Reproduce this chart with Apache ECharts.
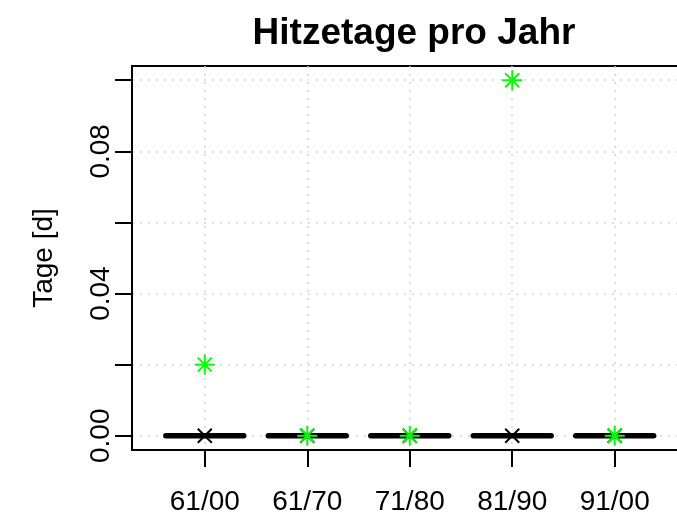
<!DOCTYPE html>
<html>
<head>
<meta charset="utf-8">
<script src="https://cdn.jsdelivr.net/npm/echarts@6/dist/echarts.min.js"></script>
<style>
  html, body { margin: 0; padding: 0; background: #fff; }
  #chart { width: 677px; height: 519px; }
</style>
</head>
<body>
<div id="chart"></div>
<script>
// chart values
const categories = ['61/00', '61/70', '71/80', '81/90', '91/00'];
const medianDays = [0, 0, 0, 0, 0];          // thick black segments
const observedDays = [0, 0, 0, 0, 0];        // black crosses
const modelDays = [0.02, 0, 0, 0.1, 0];      // green asterisks
const yTickValues = [0, 0.02, 0.04, 0.06, 0.08, 0.1];
const yLabelValues = [0, 0.04, 0.08];
const xTickValues = [1, 2, 3, 4, 5];

const FONT = 'Liberation Sans, Arial, Helvetica, sans-serif';

function toPoints(arr) {
    return arr.map(function (v, i) { return [i + 1, v]; });
}

function segmentItem(params, api) {
    let x = api.value(0), y = api.value(1);
    let p1 = api.coord([x - 0.38, y]);
    let p2 = api.coord([x + 0.38, y]);
    return {
        type: 'line',
        shape: { x1: p1[0], y1: p1[1], x2: p2[0], y2: p2[1] },
        style: { stroke: '#000', lineWidth: 5.5, lineCap: 'round' }
    };
}

function crossLines(c, h, color) {
    return [
        { type: 'line', shape: { x1: c[0] - h, y1: c[1] - h, x2: c[0] + h, y2: c[1] + h }, style: { stroke: color, lineWidth: 2 } },
        { type: 'line', shape: { x1: c[0] - h, y1: c[1] + h, x2: c[0] + h, y2: c[1] - h }, style: { stroke: color, lineWidth: 2 } }
    ];
}

function crossItem(params, api) {
    let c = api.coord([api.value(0), api.value(1)]);
    return { type: 'group', children: crossLines(c, 7, '#000') };
}

function starItem(params, api) {
    let c = api.coord([api.value(0), api.value(1)]);
    let kids = crossLines(c, 7, '#00ff00');
    kids.push({ type: 'line', shape: { x1: c[0] - 10, y1: c[1], x2: c[0] + 10, y2: c[1] }, style: { stroke: '#00ff00', lineWidth: 2 } });
    kids.push({ type: 'line', shape: { x1: c[0], y1: c[1] - 10, x2: c[0], y2: c[1] + 10 }, style: { stroke: '#00ff00', lineWidth: 2 } });
    return { type: 'group', children: kids };
}

let myChart = echarts.init(document.getElementById('chart'));
let gridLine = {
    show: true,
    lineStyle: { color: '#d3d3d3', width: 1.5, type: [2, 6] }
};
let options = {
    animation: false,
    backgroundColor: '#fff',
    title: {
        text: 'Hitzetage pro Jahr',
        left: 409,
        top: 10,
        textAlign: 'center',
        textStyle: {
            fontFamily: FONT,
            fontSize: 37,
            fontWeight: 'bold',
            color: '#000'
        }
    },
    grid: {
        left: 132,
        top: 66,
        height: 384,
        width: 555.5,
        outerBoundsMode: 'none',
        show: true,
        borderColor: '#000',
        borderWidth: 2,
        backgroundColor: 'transparent'
    },
    xAxis: {
        type: 'value',
        min: 0.29,
        max: 5.71,
        axisLine: { show: true, onZero: false, lineStyle: { color: '#000', width: 2 } },
        axisTick: {
            show: true,
            length: 17,
            customValues: xTickValues,
            lineStyle: { color: '#000', width: 2 }
        },
        axisLabel: {
            customValues: xTickValues,
            margin: 38,
            fontFamily: FONT,
            fontSize: 28,
            color: '#000',
            formatter: function (v) {
                return categories[Math.round(v) - 1] || '';
            }
        },
        splitLine: gridLine
    },
    yAxis: {
        type: 'value',
        min: -0.004,
        max: 0.104,
        name: 'Tage [d]',
        nameLocation: 'middle',
        nameGap: 74,
        nameTextStyle: { fontFamily: FONT, fontSize: 28, color: '#000' },
        axisLine: { show: true, onZero: false, lineStyle: { color: '#000', width: 2 } },
        axisTick: {
            show: true,
            length: 17,
            customValues: yTickValues,
            lineStyle: { color: '#000', width: 2 }
        },
        axisLabel: {
            customValues: yLabelValues,
            rotate: 90,
            margin: 17,
            fontFamily: FONT,
            fontSize: 28,
            color: '#000',
            formatter: function (v) {
                return v.toFixed(2);
            }
        },
        splitLine: gridLine
    },
    series: [
        {
            type: 'custom',
            name: 'median',
            renderItem: segmentItem,
            data: toPoints(medianDays),
            z: 3
        },
        {
            type: 'custom',
            name: 'beobachtet',
            renderItem: crossItem,
            data: toPoints(observedDays),
            z: 4
        },
        {
            type: 'custom',
            name: 'modell',
            renderItem: starItem,
            data: toPoints(modelDays),
            z: 5
        }
    ]
};
myChart.setOption(options);
</script>
</body>
</html>
